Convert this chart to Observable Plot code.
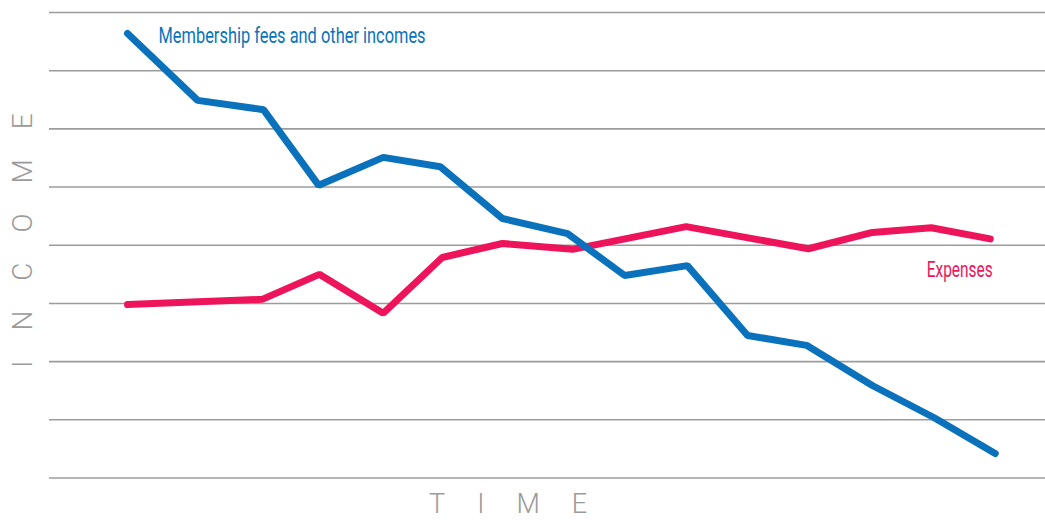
<!DOCTYPE html>
<html>
<head>
<meta charset="utf-8">
<script src="https://cdn.jsdelivr.net/npm/d3@7"></script>
<script src="https://cdn.jsdelivr.net/npm/@observablehq/plot@0.6"></script>
<style>
  html, body { margin: 0; padding: 0; background: #fff; }
  #chart svg { display: block; }
</style>
</head>
<body>
<div id="chart"></div>
<script>
// Time positions (arbitrary units) and values (arbitrary units, gridline = 1)
const incomeTime = [0, 1.13, 2.19, 3.08, 4.12, 5.04, 6.04, 7.09, 8.01, 9.02, 9.99, 10.94, 12.0, 12.99, 13.98];
const incomeValue = [7.64, 6.49, 6.33, 5.03, 5.51, 5.35, 4.46, 4.20, 3.48, 3.65, 2.45, 2.28, 1.59, 1.04, 0.42];
const expenseTime = [0, 2.17, 3.09, 4.12, 5.07, 6.04, 7.17, 9.00, 10.97, 12.0, 12.95, 13.9];
const expenseValue = [2.98, 3.07, 3.50, 2.83, 3.79, 4.03, 3.93, 4.32, 3.94, 4.22, 4.30, 4.11];
const gridValues = [0, 1, 2, 3, 4, 5, 6, 7, 8];
const seriesLabels = ["Membership fees and other incomes", "Expenses"];
const axisLabels = ["INCOME", "TIME"];

const blue = "#0a72bc";
const pink = "#ee145b";
const grey = "#9c9c9c";

const income = incomeTime.map((t, i) => ({t, v: incomeValue[i]}));
const expenses = expenseTime.map((t, i) => ({t, v: expenseValue[i]}));

const LS = 31;
const chart = Plot.plot({
  width: 1045,
  height: 520,
  marginLeft: 49,
  marginRight: 0,
  marginTop: 12,
  marginBottom: 42.5,
  x: {domain: [-1.257, 14.79], axis: null},
  y: {domain: [0, 8], axis: null},
  marks: [
    Plot.ruleY(gridValues, {stroke: grey, strokeWidth: 1.6}),
    Plot.line(expenses, {x: "t", y: "v", stroke: pink, strokeWidth: 7, strokeLinejoin: "miter", strokeLinecap: "round"}),
    Plot.line(income, {x: "t", y: "v", stroke: blue, strokeWidth: 7, strokeLinejoin: "miter", strokeLinecap: "round"}),
    Plot.text([seriesLabels[0]], {x: 0.5, y: 7.6, text: d => d, textAnchor: "start", lineAnchor: "middle", fill: blue, fontSize: 22, fontFamily: "Liberation Sans Narrow, Roboto, sans-serif"}),
    Plot.text([seriesLabels[1]], {x: 13.94, y: 3.58, text: d => d, textAnchor: "end", lineAnchor: "middle", fill: pink, fontSize: 22, fontFamily: "Liberation Sans Narrow, Roboto, sans-serif"}),
    Plot.text([axisLabels[0]], {frameAnchor: "left", text: d => d, rotate: -90, dx: -26, dy: -LS / 2 - 4, textAnchor: "middle", lineAnchor: "middle", fill: "#9a9a9a", fontSize: 28, fontWeight: 300, fontFamily: "Roboto, 'Open Sans', sans-serif"}),
    Plot.text([axisLabels[1]], {x: 6.14, frameAnchor: "bottom", text: d => d, dx: LS / 2, dy: 26, textAnchor: "middle", lineAnchor: "middle", fill: "#9a9a9a", fontSize: 27, fontWeight: 300, fontFamily: "Roboto, 'Open Sans', sans-serif"})
  ]
});
document.getElementById("chart").appendChild(chart);

// post-styling: letter spacing of axis titles, text widths of series labels
d3.select(chart).selectAll("text").each(function() {
  const s = d3.select(this);
  const txt = s.text();
  if (axisLabels.includes(txt)) s.style("letter-spacing", (txt === "INCOME" ? LS - 1 : LS + 1) + "px");
  if (txt === seriesLabels[0]) s.attr("textLength", 267).attr("lengthAdjust", "spacingAndGlyphs");
  if (txt === seriesLabels[1]) s.attr("textLength", 66).attr("lengthAdjust", "spacingAndGlyphs");
});
</script>
</body>
</html>
